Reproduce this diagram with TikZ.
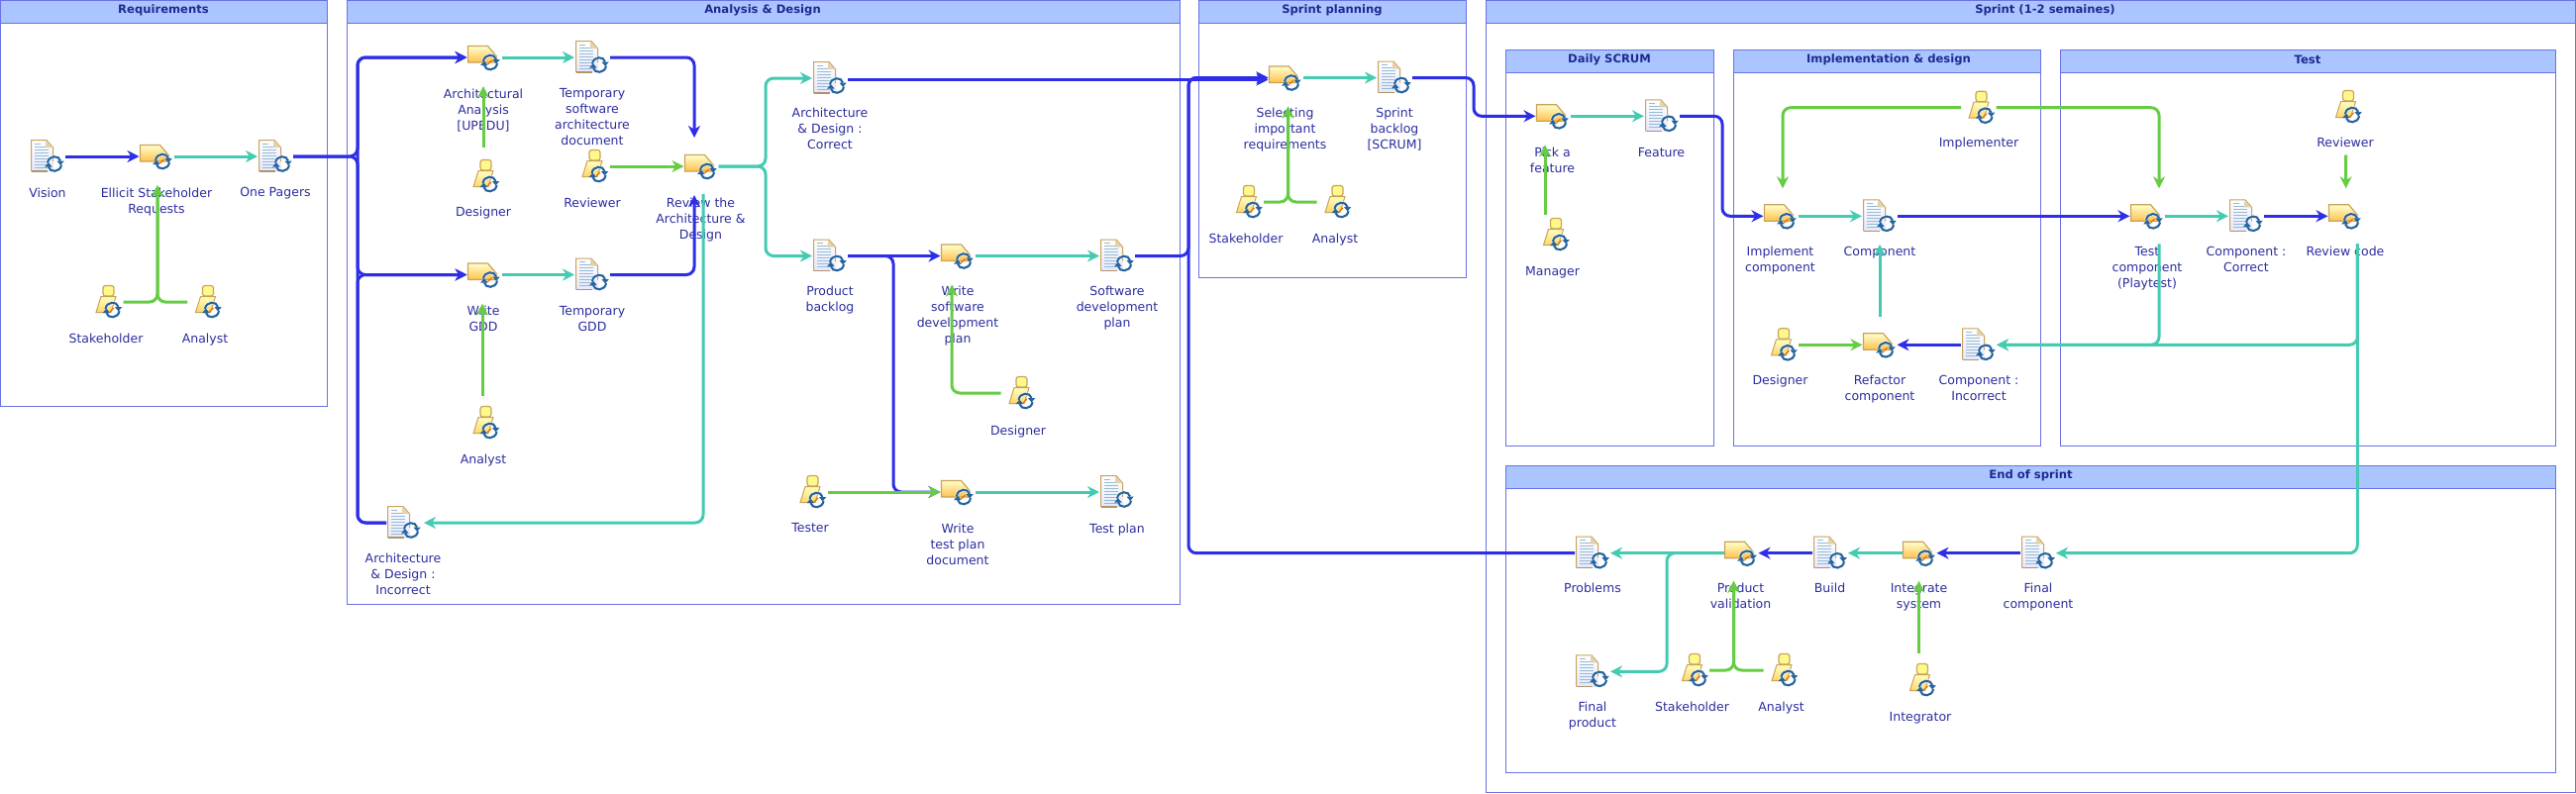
\documentclass[tikz,border=0pt]{standalone}
\usepackage{fontspec}
\setmainfont{DejaVu Sans}
\usetikzlibrary{arrows.meta,calc}
\definecolor{cblue}{HTML}{2E2EE8}
\definecolor{cteal}{HTML}{45CBB2}
\definecolor{cgreen}{HTML}{66CC44}
\definecolor{cframe}{HTML}{6A72E6}
\definecolor{chead}{HTML}{AAC5FF}
\definecolor{ctitle}{HTML}{1E2A90}
\definecolor{ctext}{HTML}{2B2E9E}
\definecolor{csync}{HTML}{25649F}
\definecolor{cgold}{HTML}{C9A35C}
\newcommand\syncmark[2]{%
    \draw[white,line width=3.4pt,opacity=.7] ({#1-7},{#2-1}) .. controls ({#1-6},{#2-9}) and ({#1+5},{#2-9}) .. ({#1+6},{#2-3});
    \draw[white,line width=3.4pt,opacity=.7] ({#1+7},{#2+1}) .. controls ({#1+6},{#2+9}) and ({#1-5},{#2+9}) .. ({#1-6},{#2+3});
    \draw[csync,line width=2.1pt] ({#1-7},{#2-1}) .. controls ({#1-6},{#2-9}) and ({#1+5},{#2-9}) .. ({#1+6},{#2-3});
    \fill[csync] ({#1+2.4},{#2-3}) -- ({#1+9.8},{#2-3}) -- ({#1+6.1},{#2+1.4}) -- cycle;
    \draw[csync,line width=2.1pt] ({#1+7},{#2+1}) .. controls ({#1+6},{#2+9}) and ({#1-5},{#2+9}) .. ({#1-6},{#2+3});
    \fill[csync] ({#1-2.4},{#2+3}) -- ({#1-9.8},{#2+3}) -- ({#1-6.1},{#2-1.4}) -- cycle;
}
\tikzset{
  x=1pt,y=-1pt,
  frameb/.style={draw=cframe,line width=1pt,fill=white},
  headb/.style={draw=cframe,line width=1pt,fill=chead},
  ttl/.style={inner sep=0pt,text=ctitle,yshift=-1pt,font=\fontsize{11.6}{14}\selectfont\bfseries},
  lab/.style={anchor=north,inner sep=0pt,align=center,text=ctext,yshift=-2.5pt,font=\fontsize{12.5}{16}\selectfont},
  con/.style={line width=3pt,rounded corners=8pt,-{Stealth[length=12pt,width=12pt,inset=3.8pt]}},
  bluec/.style={con,draw=cblue},
  tealc/.style={con,draw=cteal},
  greenc/.style={con,draw=cgreen},
  docnode/.style={inner sep=0pt,outer sep=0pt,minimum width=36pt,minimum height=34pt,
    path picture={\begin{scope}[shift={(path picture bounding box.center)}]
      \shade[top color=white,bottom color=blue!10!white]
        (-17,-16.5) -- (-1,-16.5) -- (6,-9) -- (6,15) -- (-17,15) -- cycle;
      \foreach \yy in {-10,-7,-4,-1,2,5,8,11}{\draw[blue!35!cyan!40!gray!60,line width=1pt] (-13,\yy) -- (1,\yy);}
      \draw[blue!35!cyan!40!gray!60,line width=1pt] (-7,-13) -- (-13,-13);
      \draw[cgold,line width=1pt] (-16.5,15) -- (-16.5,-16.5) -- (-1,-16.5) -- (5.5,-9) -- (5.5,5);
      \draw[cgold!60!gray,line width=1.2pt] (-16.5,15) -- (0,15);
      \fill[cgold!50!white] (-2,-16) -- (-2,-9) -- (5,-9) -- cycle;
      \syncmark{7}{7.5}
    \end{scope}}},
  tasknode/.style={inner sep=0pt,outer sep=0pt,minimum width=35pt,minimum height=26pt,
    path picture={\begin{scope}[shift={(path picture bounding box.center)}]
      \shade[top color=yellow!20!white,bottom color=orange!70!yellow!70!white,draw=cgold,line width=1.2pt]
        (-16.5,-11.5) -- (3.5,-11.5) -- (12.5,-1) -- (12.5,5) -- (-16.5,5) -- cycle;
      \syncmark{6}{5}
      \draw[orange!90!black,line width=1.2pt] (3.5,7) -- (7.5,3);
    \end{scope}}},
  actornode/.style={inner sep=0pt,outer sep=0pt,minimum width=29pt,minimum height=35pt,
    path picture={\begin{scope}[shift={(path picture bounding box.center)}]
      \fill[yellow!45!white,draw=cgold,line width=1.2pt,rounded corners=2.5pt] (-6,-16.5) rectangle (5,-6);
      \shade[top color=yellow!25!white,bottom color=orange!55!yellow!60!white,draw=cgold,line width=1pt]
        (-8,-5.5) -- (7,-5.5) -- (2,10.5) -- (-13,10.5) -- cycle;
      \syncmark{3.5}{8}
      \draw[orange!90!black,line width=1.2pt] (1,10) -- (5,6);
    \end{scope}}}
}
\begin{document}
\begin{tikzpicture}
\useasboundingbox (0,0) rectangle (2601,801);
\fill[white] (0,0) rectangle (2601,801);
% panels
\draw[frameb] (0.6,0.6) rectangle (330,410);
\draw[headb] (0.6,0.6) rectangle (330,23.5);
\node[ttl] (reqT) at (165,9.5) {Requirements};
\draw[frameb] (350.5,0.6) rectangle (1191,610);
\draw[headb] (350.5,0.6) rectangle (1191,23.5);
\node[ttl] (adT) at (770,9.5) {Analysis \& Design};
\draw[frameb] (1210,0.6) rectangle (1480,280.5);
\draw[headb] (1210,0.6) rectangle (1480,23.5);
\node[ttl] (spT) at (1345,9.5) {Sprint planning};
\draw[frameb] (1500.5,0.6) rectangle (2600.4,800.4);
\draw[headb] (1500.5,0.6) rectangle (2600.4,23.5);
\node[ttl] (sT) at (2065,9.5) {Sprint (1-2 semaines)};
\draw[frameb] (1520.5,50.3) rectangle (1730.5,450);
\draw[headb] (1520.5,50.3) rectangle (1730.5,73.5);
\node[ttl] (dsT) at (1625,59.5) {Daily SCRUM};
\draw[frameb] (1750.5,50.3) rectangle (2060.5,450);
\draw[headb] (1750.5,50.3) rectangle (2060.5,73.5);
\node[ttl] (idT) at (1907,59.5) {Implementation \& design};
\draw[frameb] (2080.5,50.3) rectangle (2580.5,450);
\draw[headb] (2080.5,50.3) rectangle (2580.5,73.5);
\node[ttl] (tT) at (2330,59.5) {Test};
\draw[frameb] (1520.5,470.3) rectangle (2580.5,780.3);
\draw[headb] (1520.5,470.3) rectangle (2580.5,493.3);
\node[ttl] (eT) at (2050.5,479.5) {End of sprint};
% Requirements
\node[docnode] (vision) at (48,158) {};
\node[tasknode] (elicit) at (158,158) {};
\node[docnode] (onepagers) at (278,158) {};
\node[actornode] (stake1) at (110,305) {};
\node[actornode] (analyst1) at (210.5,305) {};
\node[lab] (visionT) at (48,187) {Vision};
\node[lab] (elicitT) at (158,187) {Ellicit Stakeholder\\Requests};
\node[lab] (onepagersT) at (278,187) {One Pagers};
\node[lab] (stake1T) at (107,334) {Stakeholder};
\node[lab] (analyst1T) at (207,334) {Analyst};
% Analysis & Design
\node[tasknode] (arch) at (489,58) {};
\node[docnode] (tempsw) at (598,58) {};
\node[tasknode] (review) at (708,168) {};
\node[actornode] (reviewer1) at (601,168) {};
\node[actornode] (designer1) at (491,178) {};
\node[tasknode] (writeg) at (489,277.5) {};
\node[docnode] (tempg) at (598,277.5) {};
\node[actornode] (analyst2) at (491,427) {};
\node[docnode] (incorrect) at (408,528) {};
\node[docnode] (correct) at (838,79) {};
\node[docnode] (backlog) at (838,258.5) {};
\node[tasknode] (writesw) at (967,258.5) {};
\node[docnode] (softdev) at (1128,258.5) {};
\node[actornode] (designer2) at (1032,397) {};
\node[actornode] (tester) at (821,497) {};
\node[tasknode] (writet) at (967,497) {};
\node[docnode] (testplan) at (1128,497) {};
\node[lab] (archT) at (488,87) {Architectural\\Analysis\\[0pt][UPEDU]};
\node[lab] (tempswT) at (598,87) {Temporary\\software\\architecture\\document};
\node[lab] (designer1T) at (488,206.5) {Designer};
\node[lab] (reviewer1T) at (598,197) {Reviewer};
\node[lab] (reviewT) at (707.5,197) {Review the\\Architecture \&\\Design};
\node[lab] (writegT) at (488,306.5) {Write\\GDD};
\node[lab] (tempgT) at (598,306.5) {Temporary\\GDD};
\node[lab] (analyst2T) at (488,456) {Analyst};
\node[lab] (incorrectT) at (407,556) {Architecture\\\& Design :\\Incorrect};
\node[lab] (correctT) at (838,106.5) {Architecture\\\& Design :\\Correct};
\node[lab] (backlogT) at (838,286.5) {Product\\backlog};
\node[lab] (writeswT) at (967,286.5) {Write\\software\\development\\plan};
\node[lab] (softdevT) at (1128,286.5) {Software\\development\\plan};
\node[lab] (designer2T) at (1028,427) {Designer};
\node[lab] (testerT) at (818,526) {Tester};
\node[lab] (writetT) at (967,526) {Write\\test plan\\document};
\node[lab] (testplanT) at (1128,526) {Test plan};
% Sprint planning
\node[tasknode] (sel) at (1298,78.5) {};
\node[docnode] (sprintb) at (1408,78.5) {};
\node[actornode] (stake2) at (1261.5,204) {};
\node[actornode] (analyst3) at (1351,204) {};
\node[lab] (selT) at (1297.5,106.5) {Selecting\\important\\requirements};
\node[lab] (sprintbT) at (1408,106.5) {Sprint\\backlog\\[0pt][SCRUM]};
\node[lab] (stake2T) at (1258,233.5) {Stakeholder};
\node[lab] (analyst3T) at (1348,233.5) {Analyst};
% Daily SCRUM
\node[tasknode] (pick) at (1568,117.3) {};
\node[docnode] (feature) at (1678,117.3) {};
\node[actornode] (manager) at (1571.5,237) {};
\node[lab] (pickT) at (1567.5,146.5) {Pick a\\feature};
\node[lab] (featureT) at (1677.5,146.5) {Feature};
\node[lab] (managerT) at (1567.5,266.5) {Manager};
% Implementation
\node[tasknode] (impl) at (1798,218.3) {};
\node[docnode] (comp) at (1898,218.3) {};
\node[actornode] (implementer) at (2001,108.7) {};
\node[docnode] (comping) at (1998,348.3) {};
\node[tasknode] (refactor) at (1898,348.3) {};
\node[actornode] (designer3) at (1801.5,348.3) {};
\node[lab] (implT) at (1797.5,246.5) {Implement\\component};
\node[lab] (compT) at (1898,246.5) {Component};
\node[lab] (implementerT) at (1998,136.5) {Implementer};
\node[lab] (compingT) at (1998,376.5) {Component :\\Incorrect};
\node[lab] (refactorT) at (1898,376.5) {Refactor\\component};
\node[lab] (designer3T) at (1797.5,376.5) {Designer};
% Test
\node[tasknode] (testc) at (2168,218.3) {};
\node[docnode] (compc) at (2268,218.3) {};
\node[tasknode] (revc) at (2368,218.3) {};
\node[actornode] (reviewer2) at (2371.5,108) {};
\node[lab] (testcT) at (2168,246.5) {Test\\component\\(Playtest)};
\node[lab] (compcT) at (2268,246.5) {Component :\\Correct};
\node[lab] (revcT) at (2368,246.5) {Review code};
\node[lab] (reviewer2T) at (2368,136.5) {Reviewer};
% End of sprint
\node[docnode] (finalc) at (2058,558.7) {};
\node[tasknode] (integ) at (1938,558.7) {};
\node[docnode] (build) at (1848,558.7) {};
\node[tasknode] (pv) at (1758,558.7) {};
\node[docnode] (problems) at (1608,558.7) {};
\node[docnode] (finalp) at (1608,678.3) {};
\node[actornode] (stake3) at (1711.5,677) {};
\node[actornode] (analyst4) at (1802,677) {};
\node[actornode] (integrator) at (1941.5,687) {};
\node[lab] (finalcT) at (2058,586.5) {Final\\component};
\node[lab] (integT) at (1937.5,586.5) {Integrate\\system};
\node[lab] (buildT) at (1847.5,586.5) {Build};
\node[lab] (pvT) at (1757.5,586.5) {Product\\validation};
\node[lab] (problemsT) at (1608,586.5) {Problems};
\node[lab] (finalpT) at (1608,706.5) {Final\\product};
\node[lab] (stake3T) at (1708.5,706.5) {Stakeholder};
\node[lab] (analyst4T) at (1798.5,706.5) {Analyst};
\node[lab] (integratorT) at (1939,717) {Integrator};
% bus positions
\coordinate (busA) at (361,0);
\coordinate (busB) at (1200,0);
\coordinate (busC) at (902,0);
\coordinate (busD) at (1488,0);
\coordinate (busE) at (1739,0);
\coordinate (busF) at (1683,0);
\coordinate (forkA) at (773,168);
% connectors: Requirements
\draw[bluec] (vision.east) -- (elicit.west);
\draw[tealc] (elicit.east) -- (onepagers.west);
\draw[greenc] (stake1.east) -| ([xshift=1,yshift=-16]elicit.south);
\draw[greenc] ([xshift=-7]analyst1.west) -| ([xshift=1,yshift=-16]elicit.south);
\draw[bluec] (onepagers.east) -- (busA |- onepagers.east) -- (busA |- arch.west) -- (arch.west);
\draw[bluec] (onepagers.east) -- (busA |- onepagers.east) -- (busA |- writeg.west) -- (writeg.west);
\draw[bluec] (incorrect.west) -- (busA |- incorrect.west) -- (busA |- writeg.west) -- (writeg.west);
\draw[bluec] (incorrect.west) -- (busA |- incorrect.west) -- (busA |- arch.west) -- (arch.west);
% Analysis & Design
\draw[tealc] (arch.east) -- (tempsw.west);
\draw[tealc] (writeg.east) -- (tempg.west);
\draw[bluec] (tempsw.east) -| ([xshift=-7,yshift=16]review.north);
\draw[bluec] (tempg.east) -| ([xshift=-7,yshift=-16]review.south);
\draw[greenc] ([xshift=-3,yshift=11.5]designer1.north) -- ([xshift=-1,yshift=-16]arch.south);
\draw[greenc] ([xshift=-4,yshift=9.5]analyst2.north) -- ([xshift=-2,yshift=-16]writeg.south);
\draw[greenc] (reviewer1.east) -- (review.west);
\draw[tealc] ([xshift=2,yshift=-15]review.south) |- ([xshift=2]incorrect.east);
\draw[tealc] (review.east) -- (forkA) |- (correct.west);
\draw[tealc] (review.east) -- (forkA) |- (backlog.west);
\draw[bluec] (backlog.east) -- (writesw.west);
\draw[bluec] (backlog.east) -- (busC |- backlog.east) -- (busC |- writet.west) -- (writet.west);
\draw[tealc] (writesw.east) -- (softdev.west);
\draw[tealc] (writet.east) -- (testplan.west);
\draw[greenc] ([xshift=-7]designer2.west) -| ([xshift=-6,yshift=-16]writesw.south);
\draw[greenc] (tester.east) -- (writet.west);
\draw[bluec] ([yshift=-1.5]correct.east) -- ([yshift=-2]sel.west);
\draw[bluec] (softdev.east) -- (busB |- softdev.east) -- (busB |- sel.west) -- (sel.west);
\draw[bluec] (problems.west) -- (busB |- problems.west) -- (busB |- sel.west) -- (sel.west);
% Sprint planning
\draw[tealc] (sel.east) -- (sprintb.west);
\draw[greenc] (stake2.east) -| ([xshift=2.5,yshift=-16]sel.south);
\draw[greenc] ([xshift=-7]analyst3.west) -| ([xshift=2.5,yshift=-16]sel.south);
\draw[bluec] (sprintb.east) -- (busD |- sprintb.east) -- (busD |- pick.west) -- (pick.west);
% Daily SCRUM
\draw[tealc] (pick.east) -- (feature.west);
\draw[greenc] ([xshift=-11.5,yshift=3]manager.north) -- ([xshift=-8,yshift=-16]pick.south);
\draw[bluec] (feature.east) -- (busE |- feature.east) -- (busE |- impl.west) -- (impl.west);
% Implementation
\draw[tealc] (impl.east) -- (comp.west);
\draw[bluec] (comp.east) -- (testc.west);
\draw[greenc] ([xshift=-6.5]implementer.west) -| ([xshift=2,yshift=15]impl.north);
\draw[greenc] (implementer.east) -| ([xshift=12,yshift=15]testc.north);
\draw[tealc] ([yshift=15]refactor.north) -- ([yshift=-11.5]comp.south);
\draw[greenc] (designer3.east) -- (refactor.west);
\draw[bluec] (comping.west) -- (refactor.east);
% Test
\draw[tealc] (testc.east) -- (compc.west);
\draw[bluec] (compc.east) -- (revc.west);
\draw[greenc] ([xshift=-3,yshift=-31]reviewer2.south) -- ([xshift=.7,yshift=15]revc.north);
\draw[tealc] ([xshift=12,yshift=-15]testc.south) |- (comping.east);
\draw[tealc] ([xshift=12.3,yshift=-15]revc.south) |- (comping.east);
\draw[tealc] ([xshift=12.3,yshift=-15]revc.south) |- (finalc.east);
% End of sprint
\draw[bluec] (finalc.west) -- (integ.east);
\draw[tealc] (integ.west) -- (build.east);
\draw[bluec] (build.west) -- (pv.east);
\draw[tealc] (pv.west) -- (problems.east);
\draw[tealc] (pv.west) -- (busF |- pv.west) -- (busF |- finalp.east) -- (finalp.east);
\draw[greenc] (stake3.east) -| ([xshift=-7.5,yshift=-15]pv.south);
\draw[greenc] ([xshift=-7]analyst4.west) -| ([xshift=-7.5,yshift=-15]pv.south);
\draw[greenc] ([xshift=-4,yshift=9.5]integrator.north) -- ([xshift=-.5,yshift=-15]integ.south);
\end{tikzpicture}
\end{document}
